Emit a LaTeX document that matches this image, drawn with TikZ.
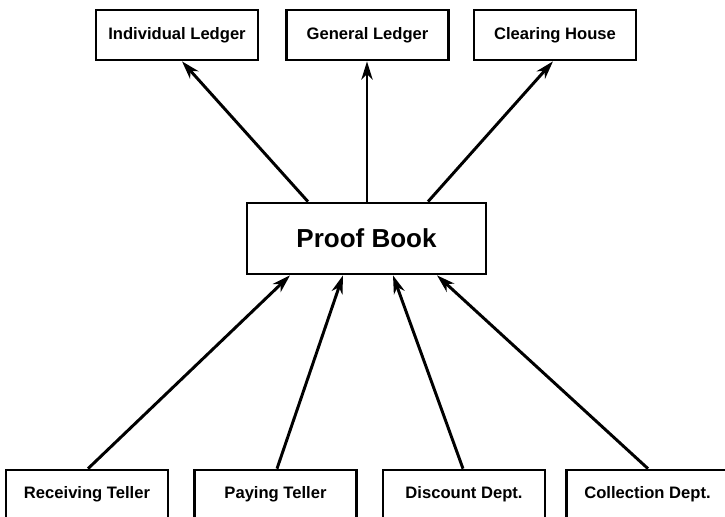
\documentclass[tikz,border=0pt]{standalone}
\usepackage{fontspec}
\setmainfont{Liberation Sans}
\usetikzlibrary{arrows.meta}
\usetikzlibrary{positioning}
\tikzset{>={Stealth[inset=4pt,length=13pt,width=8pt]}}

\begin{document}
\begin{tikzpicture}[x=0.025cm,y=-0.025cm,
        box/.style={draw,line width=1.9pt,fill=white,minimum width=4.05cm,minimum height=1.25cm,inner sep=0pt,font=\fontsize{11.8}{13}\selectfont\bfseries},
        lowbox/.style={box,minimum height=1.2cm},
        link/.style={->,line width=2.1pt}]
        \useasboundingbox (0,0) rectangle (725,516);
        % top row
        \node[box] (ind) at (177,35) {Individual Ledger};
        \node[box] (gen) at (367.5,35) {General Ledger};
        \node[box] (clr) at (555,35) {Clearing House};
        % centre
        \node[box,minimum width=5.975cm,minimum height=1.775cm,font=\fontsize{18.5}{20}\selectfont\bfseries] (proof) at (366.5,238.5) {Proof Book};
        % bottom row
        \node[lowbox] (rec) at (87,494) {Receiving Teller};
        \node[lowbox] (pay) at (275.5,494) {Paying Teller};
        \node[lowbox] (dis) at (464,494) {Discount Dept.};
        \node[lowbox] (col) at (647.5,494) {Collection Dept.};
        % outgoing
        \draw[link] (proof.north -| 308,0) -- (ind.south -| 182,0);
        \draw[link] (proof.north -| 367,0) -- (gen.south -| 367,0);
        \draw[link] (proof.north -| 428,0) -- (clr.south -| 553,0);
        % incoming
        \draw[link] (rec.north -| 88,0) -- (proof.south -| 290,0);
        \draw[link] (pay.north -| 277,0) -- (proof.south -| 343,0);
        \draw[link] (dis.north -| 463,0) -- (proof.south -| 393,0);
        \draw[link] (col.north -| 648,0) -- (proof.south -| 437,0);
    \end{tikzpicture}
\end{document}
